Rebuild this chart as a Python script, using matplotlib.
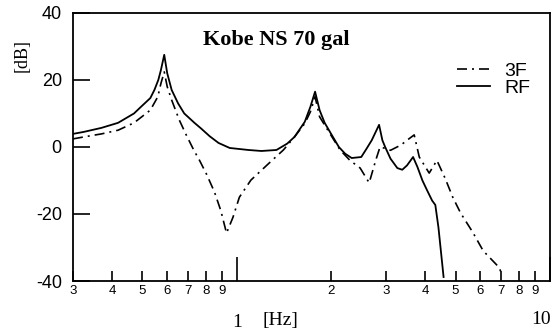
import matplotlib
matplotlib.use("Agg")
import matplotlib.pyplot as plt
from matplotlib.ticker import FixedLocator, FixedFormatter

plt.rcParams["axes.unicode_minus"] = False

# RF (roof floor) transfer function
rf_freq = [0.30, 0.325, 0.37, 0.418, 0.47, 0.495, 0.53, 0.546, 0.562, 0.573, 0.587,
           0.60, 0.62, 0.65, 0.68, 0.733, 0.77, 0.82, 0.875, 0.95, 1.09, 1.2, 1.34,
           1.45, 1.53, 1.65, 1.72, 1.78, 1.84, 1.91, 2.0, 2.12, 2.22, 2.33, 2.50,
           2.60, 2.70, 2.85, 2.92, 2.98, 3.1, 3.26, 3.38, 3.5, 3.66, 3.78, 3.92,
           4.06, 4.21, 4.31, 4.41, 4.58]
rf_db = [3.9, 4.5, 5.7, 7.2, 10, 12, 14.6, 17, 20, 23, 27.5,
         22, 17, 13, 10, 7.2, 5.5, 3.2, 1.2, -0.3, -0.9, -1.2, -0.9,
         1, 3, 7.5, 12, 16.5, 11, 7.2, 4, 0, -2, -3.3, -3,
         -0.5, 2, 6.6, 2, 0, -3.5, -6.3, -6.8, -5.5, -3, -6, -10,
         -13, -16, -17.3, -24, -38.8]

# 3F transfer function
f3_freq = [0.30, 0.325, 0.37, 0.418, 0.47, 0.53, 0.56, 0.573, 0.587, 0.60, 0.62,
           0.656, 0.69, 0.73, 0.76, 0.80, 0.849, 0.89, 0.928, 0.973, 1.02, 1.11,
           1.27, 1.41, 1.53, 1.65, 1.72, 1.78, 1.84, 1.97, 2.14, 2.3, 2.48, 2.65,
           2.78, 2.87, 3.0, 3.1, 3.35, 3.5, 3.69, 3.83, 4.12, 4.36, 4.63, 4.9,
           5.19, 5.68, 6.13, 6.9, 7.05]
f3_db = [2.4, 3, 3.9, 5, 7.2, 11, 15, 19, 22.4, 18, 14,
         8, 3.6, -1, -3.9, -8, -13.4, -19, -25.7, -21, -15, -9.9,
         -4.8, -0.9, 3, 7, 10.5, 15, 9, 4.5, -0.9, -4, -6.3, -10.7,
         -4, 0, -0.5, -1, 0.6, 2, 3.6, -3, -7.8, -4, -9.3, -15,
         -19.7, -25.5, -31, -36, -38.5]

minor_pos = [0.3, 0.4, 0.5, 0.6, 0.7, 0.8, 0.9, 2, 3, 4, 5, 6, 7, 8, 9]
minor_lab = ["3", "4", "5", "6", "7", "8", "9", "2", "3", "4", "5", "6", "7", "8", "9"]
major_pos = [1, 10]
major_lab = ["1", ""]
y_ticks = [-40, -20, 0, 20, 40]

sans = "Liberation Sans"
serif = "Liberation Serif"

fig = plt.figure(figsize=(5.57, 3.31), dpi=100)
ax = fig.add_axes([0.131, 0.151, 0.856, 0.81])

ax.plot(f3_freq, f3_db, color="black", lw=1.2, linestyle=(0, (6, 3, 1.2, 3)), label="3F")
ax.plot(rf_freq, rf_db, color="black", lw=1.3, label="RF")

ax.set_xscale("log")
ax.set_xlim(0.3, 10)
ax.set_ylim(-40, 40)

ax.xaxis.set_major_locator(FixedLocator(major_pos))
ax.xaxis.set_major_formatter(FixedFormatter(major_lab))
ax.xaxis.set_minor_locator(FixedLocator(minor_pos))
ax.xaxis.set_minor_formatter(FixedFormatter(minor_lab))
ax.tick_params(axis="x", which="major", direction="in", length=17, width=1.2,
               pad=24, labelsize=14)
ax.tick_params(axis="x", which="minor", direction="in", length=7, width=1.2,
               pad=3, labelsize=9.5)
for t in ax.get_xticklabels(which="major"):
    t.set_family(serif)
for t in ax.get_xticklabels(which="minor"):
    t.set_family(sans)

ax.set_yticks(y_ticks)
ax.tick_params(axis="y", direction="in", length=12, width=1.2, pad=8, labelsize=13)
for t in ax.get_yticklabels():
    t.set_family(sans)

for s in ax.spines.values():
    s.set_linewidth(1.3)

fig.text(22 / 557, 1 - 55 / 331, "[dB]", rotation=90, ha="center", va="center",
         family=serif, fontsize=13)
fig.text(280 / 557, 1 - 320 / 331, "[Hz]", ha="center", va="center",
         family=serif, fontsize=14)
fig.text(541 / 557, 1 - 320 / 331, "10", ha="center", va="center",
         family=serif, fontsize=14)
fig.text(276 / 557, 1 - 40 / 331, "Kobe NS 70 gal", ha="center", va="center",
         family=serif, fontweight="bold", fontsize=16)

ax.legend(loc="upper right", bbox_to_anchor=(530 / 557, 1 - 62 / 331),
          bbox_transform=fig.transFigure, frameon=False, prop={"family": sans, "size": 14},
          handlelength=1.7, handletextpad=0.7, labelspacing=0.0, borderpad=0,
          borderaxespad=0)

fig.savefig("out.png", dpi=100)
